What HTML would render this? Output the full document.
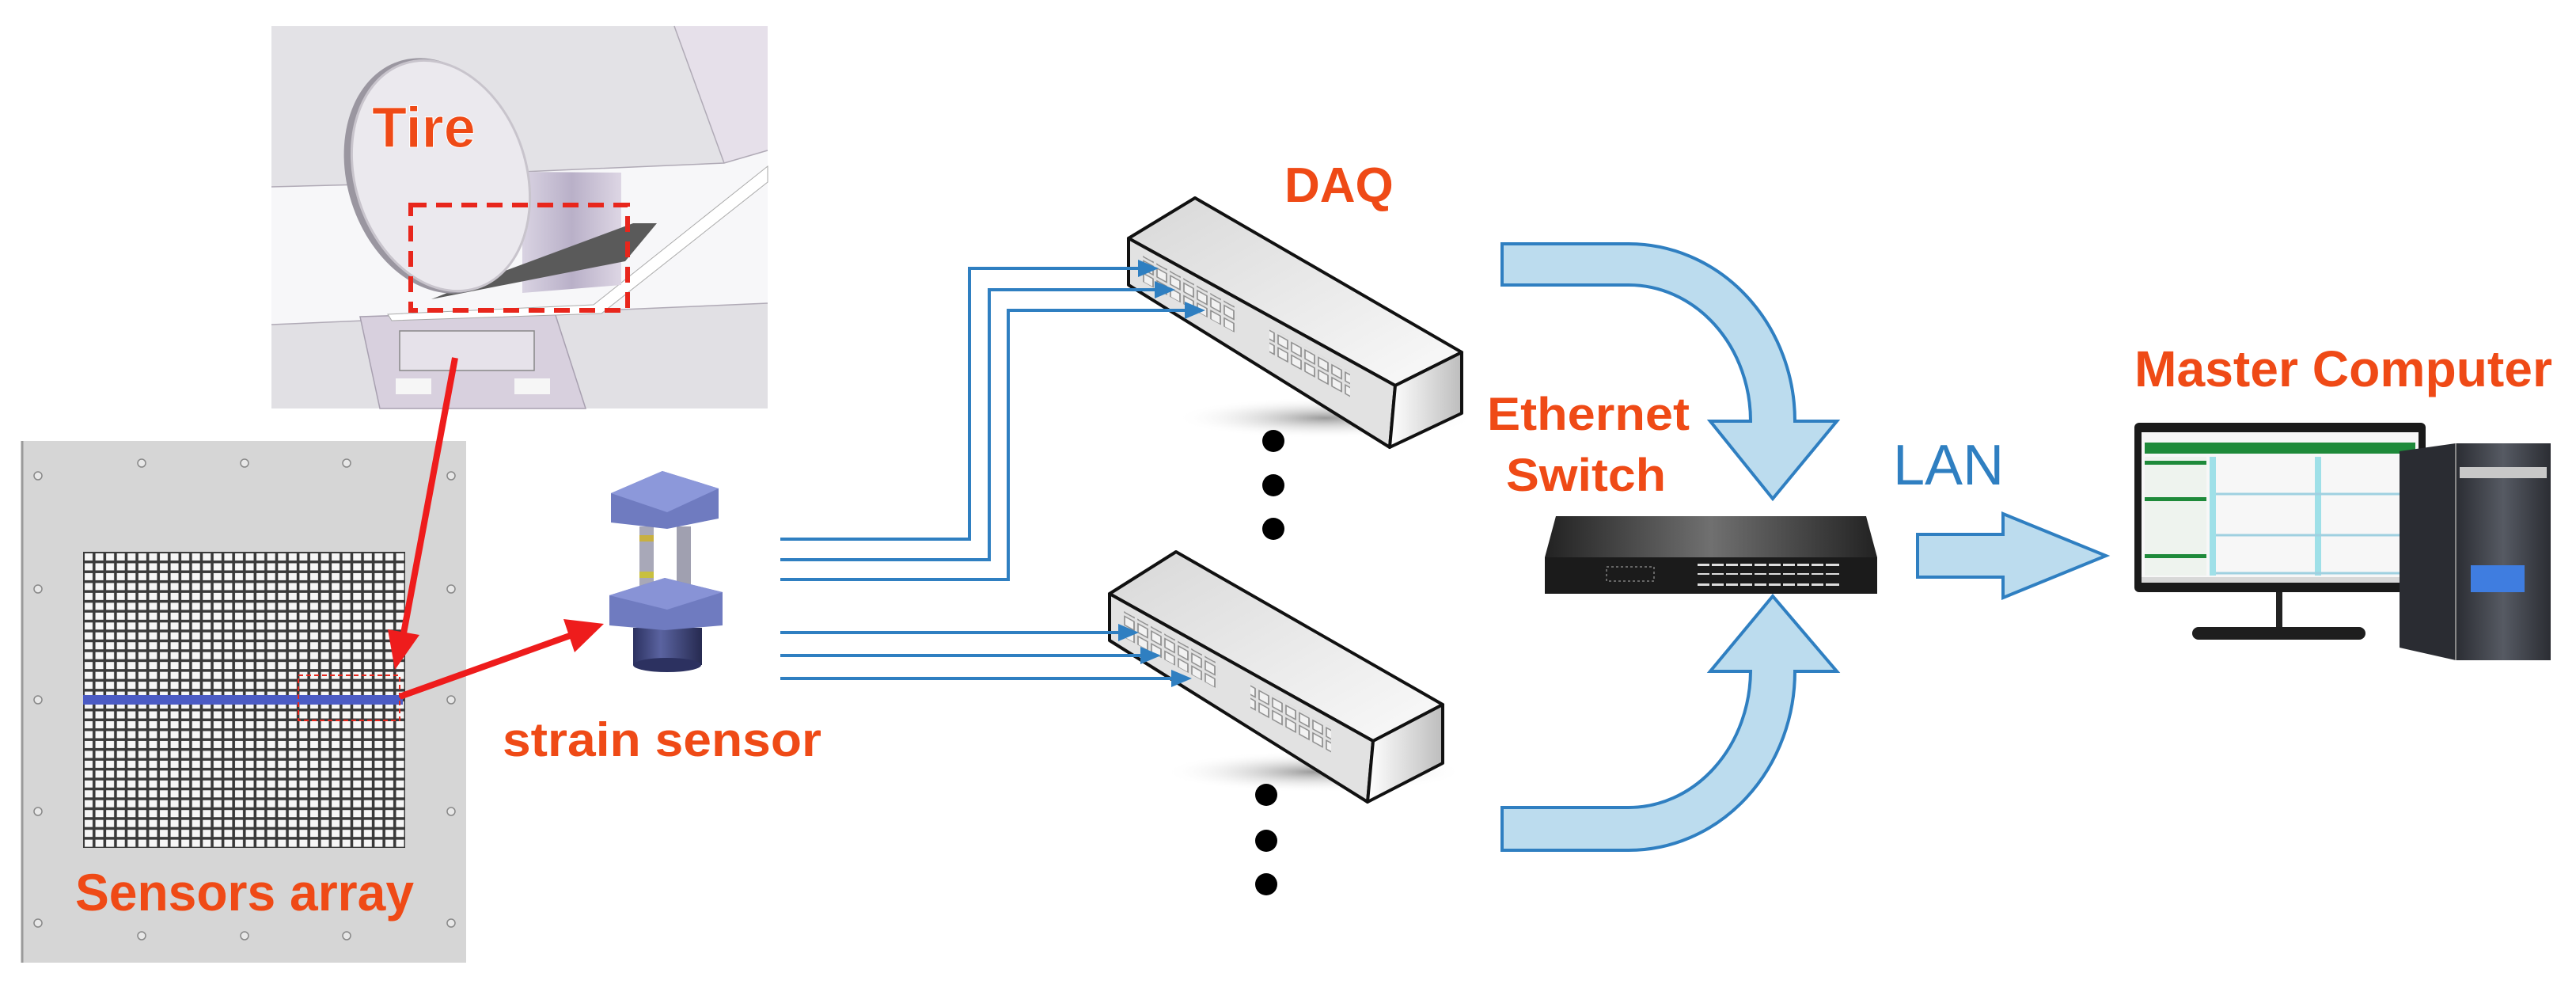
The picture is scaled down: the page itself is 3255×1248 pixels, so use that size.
<!DOCTYPE html>
<html><head><meta charset="utf-8"><style>
html,body{margin:0;padding:0;background:#fff;}
svg{display:block;}
text{font-family:"Liberation Sans",Arial,sans-serif;}
</style></head><body>
<svg width="3255" height="1248" viewBox="0 0 3255 1248" xmlns="http://www.w3.org/2000/svg">
<defs>
<pattern id="grid" x="105" y="697" width="13.57" height="12.47" patternUnits="userSpaceOnUse">
<rect width="13.57" height="12.47" fill="#3a3a3a"/><rect x="2" y="2" width="10" height="9" fill="#f6f6f6"/>
</pattern>
<pattern id="ports" x="0" y="0" width="17" height="16" patternUnits="userSpaceOnUse">
<rect x="2" y="2" width="12" height="11" fill="#f2f2f2" stroke="#8a8a8a" stroke-width="1.6"/>
</pattern>
<linearGradient id="top" x1="0" y1="0" x2="1" y2="1"><stop offset="0" stop-color="#d8d8d8"/><stop offset="1" stop-color="#fafafa"/></linearGradient>
<linearGradient id="endg" x1="0" y1="0" x2="1" y2="0"><stop offset="0" stop-color="#ffffff"/><stop offset="1" stop-color="#bdbdbd"/></linearGradient>
<radialGradient id="shad"><stop offset="0" stop-color="#9a9a9a"/><stop offset="1" stop-color="#ffffff" stop-opacity="0"/></radialGradient>
<linearGradient id="sw" x1="0" y1="0" x2="1" y2="0"><stop offset="0" stop-color="#222"/><stop offset="0.5" stop-color="#707070"/><stop offset="1" stop-color="#222"/></linearGradient>
<linearGradient id="cyl" x1="0" y1="0" x2="1" y2="0"><stop offset="0" stop-color="#2c3160"/><stop offset="0.4" stop-color="#5a63a0"/><stop offset="1" stop-color="#262a50"/></linearGradient>
<linearGradient id="tcyl" x1="0" y1="0" x2="1" y2="0"><stop offset="0" stop-color="#d9d3e2"/><stop offset="0.5" stop-color="#b9b0c8"/><stop offset="1" stop-color="#ddd6e4"/></linearGradient>
<linearGradient id="tow" x1="0" y1="0" x2="1" y2="0"><stop offset="0" stop-color="#2b2d33"/><stop offset="0.5" stop-color="#565a63"/><stop offset="1" stop-color="#2b2d33"/></linearGradient>
<marker id="bh" markerWidth="26" markerHeight="22" refX="20" refY="11" orient="auto" markerUnits="userSpaceOnUse" viewBox="0 0 26 22"><path d="M0,0 L26,11 L0,22 Z" fill="#2f7fc1"/></marker>
</defs>

<!-- Tire panel -->
<rect x="343" y="33" width="627" height="483" fill="#e3e2e6"/>
<polygon points="343,236 500,232 660,217 915,206 970,190 970,383 343,410" fill="#f7f7f9"/>
<polygon points="852,33 970,33 970,190 915,206" fill="#e6e0ea"/>
<line x1="852" y1="33" x2="915" y2="206" stroke="#b0aab6" stroke-width="1.5"/>
<polyline points="343,236 500,232" stroke="#b0aab6" stroke-width="1.5" fill="none"/>
<polyline points="660,217 915,206 970,190" stroke="#b0aab6" stroke-width="1.5" fill="none"/>
<polygon points="343,410 970,383 970,516 343,516" fill="#e1e0e4"/>
<line x1="343" y1="410" x2="970" y2="383" stroke="#b0aab6" stroke-width="1.5"/>
<polygon points="455,400 700,392 740,516 480,516" fill="#d8d0de" stroke="#a8a0b0" stroke-width="1.5"/>
<rect x="505" y="418" width="170" height="50" fill="#e6e2ea" stroke="#888" stroke-width="1.5"/>
<rect x="500" y="478" width="45" height="20" fill="#f6f6f6"/><rect x="650" y="478" width="45" height="20" fill="#f6f6f6"/>
<polygon points="490,397 750,385 970,210 970,230 760,396 495,405" fill="#ffffff" stroke="#aaa" stroke-width="1"/>
<polygon points="660,217 785,218 785,360 660,370" fill="url(#tcyl)"/>
<polygon points="545,378 790,330 830,282 800,282 590,360" fill="#5a5a5a"/>
<ellipse cx="551" cy="222" rx="112" ry="152" transform="rotate(-18 551 222)" fill="#9a96a0"/>
<ellipse cx="557" cy="222" rx="108" ry="149" transform="rotate(-18 557 222)" fill="#ebe9ee" stroke="#c8c4cc" stroke-width="3"/>
<rect x="519" y="259" width="274" height="133" fill="none" stroke="#e8261c" stroke-width="6" stroke-dasharray="20,12"/>
<text x="470" y="186" font-size="72" font-weight="bold" fill="#ef4a16" stroke="#fff" stroke-width="1">Tire</text>

<!-- Sensors panel -->
<rect x="27" y="557" width="562" height="659" fill="#d6d6d6"/>
<line x1="28" y1="557" x2="28" y2="1216" stroke="#9a9a9a" stroke-width="3"/>
<g fill="#e8e8e8" stroke="#888" stroke-width="1.5">
<circle cx="179" cy="585" r="5"/><circle cx="309" cy="585" r="5"/><circle cx="438" cy="585" r="5"/>
<circle cx="179" cy="1182" r="5"/><circle cx="309" cy="1182" r="5"/><circle cx="438" cy="1182" r="5"/>
<circle cx="48" cy="601" r="5"/><circle cx="48" cy="744" r="5"/><circle cx="48" cy="884" r="5"/><circle cx="48" cy="1025" r="5"/><circle cx="48" cy="1166" r="5"/>
<circle cx="570" cy="601" r="5"/><circle cx="570" cy="744" r="5"/><circle cx="570" cy="884" r="5"/><circle cx="570" cy="1025" r="5"/><circle cx="570" cy="1166" r="5"/>
</g>
<rect x="105" y="697" width="407" height="374" fill="url(#grid)"/>
<rect x="105" y="878" width="404" height="12" fill="#4b5bc4"/>
<rect x="377" y="853" width="128" height="57" fill="none" stroke="#e8261c" stroke-width="2" stroke-dasharray="6,4"/>
<text x="95" y="1150" font-size="66" font-weight="bold" fill="#ef4a16" textLength="428" lengthAdjust="spacingAndGlyphs">Sensors array</text>

<!-- red arrows -->
<line x1="575" y1="452" x2="510" y2="800" stroke="#ee1c1c" stroke-width="8"/>
<polygon points="499,846 490,795 530,802" fill="#ee1c1c"/>
<line x1="505" y1="880" x2="720" y2="803" stroke="#ee1c1c" stroke-width="8"/>
<polygon points="763,788 712,782 726,824" fill="#ee1c1c"/>

<!-- strain sensor -->
<polygon points="800,793 887,793 887,840 800,840" fill="url(#cyl)"/>
<ellipse cx="843" cy="840" rx="43" ry="9" fill="#2c3160"/>
<rect x="808" y="665" width="18" height="75" fill="#a8a8b8"/><rect x="855" y="665" width="18" height="75" fill="#a0a0b0"/>
<rect x="808" y="676" width="18" height="8" fill="#c8b040"/><rect x="808" y="722" width="18" height="8" fill="#c8c040"/>
<polygon points="770,752 840,730 913,748 913,790 840,796 770,790" fill="#6f7bc0"/>
<polygon points="770,752 840,730 913,748 843,770" fill="#8893d6"/>
<polygon points="772,623 837,595 908,617 908,655 843,668 772,660" fill="#6f7bc0"/>
<polygon points="772,623 837,595 908,617 843,647" fill="#8c98da"/>
<text x="635" y="955" font-size="60" font-weight="bold" fill="#ef4a16" textLength="403" lengthAdjust="spacingAndGlyphs">strain sensor</text>

<!-- DAQ boxes -->
<g>
<ellipse cx="1675" cy="528" rx="190" ry="26" fill="url(#shad)"/>
<polygon points="1426,301 1510,250 1847,445 1763,487" fill="url(#top)" stroke="#111" stroke-width="4" stroke-linejoin="round"/>
<polygon points="1426,301 1763,487 1756,565 1426,360" fill="#e2e2e2" stroke="#111" stroke-width="4" stroke-linejoin="round"/>
<polygon points="1763,487 1847,445 1847,522 1756,565" fill="url(#endg)" stroke="#111" stroke-width="4" stroke-linejoin="round"/>
<g transform="matrix(1,0.552,0,1,1426,301)">
<rect x="18" y="12" width="119" height="33" fill="url(#ports)"/><rect x="178" y="14" width="102" height="33" fill="url(#ports)"/>
</g>
</g>
<g>
<ellipse cx="1660" cy="975" rx="190" ry="26" fill="url(#shad)"/>
<polygon points="1402,750 1486,697 1823,890 1735,936" fill="url(#top)" stroke="#111" stroke-width="4" stroke-linejoin="round"/>
<polygon points="1402,750 1735,936 1728,1013 1402,809" fill="#e2e2e2" stroke="#111" stroke-width="4" stroke-linejoin="round"/>
<polygon points="1735,936 1823,890 1823,964 1728,1013" fill="url(#endg)" stroke="#111" stroke-width="4" stroke-linejoin="round"/>
<g transform="matrix(1,0.552,0,1,1402,750)">
<rect x="18" y="12" width="119" height="33" fill="url(#ports)"/><rect x="178" y="14" width="102" height="33" fill="url(#ports)"/>
</g>
</g>

<!-- blue lines -->
<g stroke="#2f7fc1" stroke-width="4" fill="none" marker-end="url(#bh)">
<path d="M986,681 H1225 V339 H1458"/>
<path d="M986,707 H1250 V366 H1479"/>
<path d="M986,732 H1274 V392 H1517"/>
<path d="M986,799 H1433"/>
<path d="M986,828 H1461"/>
<path d="M986,857 H1500"/>
</g>
<g fill="#000">
<circle cx="1609" cy="557" r="14"/><circle cx="1609" cy="613" r="14"/><circle cx="1609" cy="668" r="14"/>
<circle cx="1600" cy="1004" r="14"/><circle cx="1600" cy="1062" r="14"/><circle cx="1600" cy="1117" r="14"/>
</g>
<text x="1623" y="255" font-size="62" font-weight="bold" fill="#ef4a16">DAQ</text>

<!-- curved arrows -->
<path d="M1898,308 L2058,308 A210,224 0 0 1 2268,532 L2321,532 L2240,630 L2161,532 L2212,532 A154,172 0 0 0 2058,360 L1898,360 Z" fill="#bcdcee" stroke="#2f7fc1" stroke-width="4"/>
<path d="M1898,1074 L2058,1074 A210,226 0 0 0 2268,848 L2321,848 L2240,753 L2161,848 L2212,848 A154,174 0 0 1 2058,1020 L1898,1020 Z" fill="#bcdcee" stroke="#2f7fc1" stroke-width="4"/>
<text x="1879" y="543" font-size="58" font-weight="bold" fill="#ef4a16" textLength="256" lengthAdjust="spacingAndGlyphs">Ethernet</text>
<text x="1903" y="620" font-size="58" font-weight="bold" fill="#ef4a16" textLength="202" lengthAdjust="spacingAndGlyphs">Switch</text>

<!-- switch -->
<polygon points="1966,652 2358,652 2372,704 1952,704" fill="url(#sw)"/>
<rect x="1952" y="704" width="420" height="46" fill="#1b1b1b"/>
<g fill="#ddd">
<rect x="2145" y="712" width="179" height="3"/><rect x="2145" y="737" width="179" height="3"/><rect x="2145" y="724" width="179" height="2"/>
</g>
<g fill="#1b1b1b"><rect x="2160" y="712" width="3" height="28"/><rect x="2178" y="712" width="3" height="28"/><rect x="2196" y="712" width="3" height="28"/><rect x="2214" y="712" width="3" height="28"/><rect x="2232" y="712" width="3" height="28"/><rect x="2250" y="712" width="3" height="28"/><rect x="2268" y="712" width="3" height="28"/><rect x="2286" y="712" width="3" height="28"/><rect x="2304" y="712" width="3" height="28"/></g>
<rect x="2030" y="716" width="60" height="18" fill="none" stroke="#666" stroke-width="2" stroke-dasharray="3,3"/>

<!-- LAN -->
<text x="2392" y="612" font-size="72" fill="#2f7fc1">LAN</text>
<path d="M2423,675 L2531,675 L2531,649 L2661,702 L2531,755 L2531,729 L2423,729 Z" fill="#bcdcee" stroke="#2f7fc1" stroke-width="4"/>

<!-- Master computer -->
<text x="2697" y="488" font-size="64" font-weight="bold" fill="#ef4a16" textLength="528" lengthAdjust="spacingAndGlyphs">Master Computer</text>
<rect x="2876" y="748" width="8" height="48" fill="#222"/>
<rect x="2770" y="792" width="219" height="16" rx="8" fill="#1e1e1e"/>
<rect x="2697" y="534" width="368" height="214" rx="6" fill="#1a1a1a"/>
<rect x="2706" y="546" width="350" height="190" fill="#f7f7f7"/>
<rect x="2710" y="559" width="342" height="14" fill="#1e8a3a"/>
<rect x="2710" y="577" width="78" height="150" fill="#eef3ee"/>
<rect x="2710" y="582" width="78" height="5" fill="#1e8a3a"/><rect x="2710" y="628" width="78" height="5" fill="#1e8a3a"/><rect x="2710" y="700" width="78" height="5" fill="#1e8a3a"/>
<rect x="2792" y="577" width="8" height="150" fill="#9fe0e8"/><rect x="2925" y="577" width="8" height="150" fill="#9fe0e8"/>
<g stroke="#9fd0e0" stroke-width="3"><line x1="2800" y1="624" x2="3052" y2="624"/><line x1="2800" y1="676" x2="3052" y2="676"/><line x1="2800" y1="724" x2="3052" y2="724"/></g>
<rect x="2706" y="729" width="350" height="7" fill="#d8d8d8"/>
<polygon points="3032,570 3103,560 3103,834 3032,818" fill="#2a2c32"/>
<rect x="3103" y="560" width="120" height="274" fill="url(#tow)"/>
<rect x="3108" y="590" width="110" height="14" fill="#c8c8c8"/>
<rect x="3122" y="714" width="68" height="34" fill="#3f7de0"/>
<line x1="3103" y1="560" x2="3103" y2="834" stroke="#888" stroke-width="2"/>
</svg>
</body></html>
